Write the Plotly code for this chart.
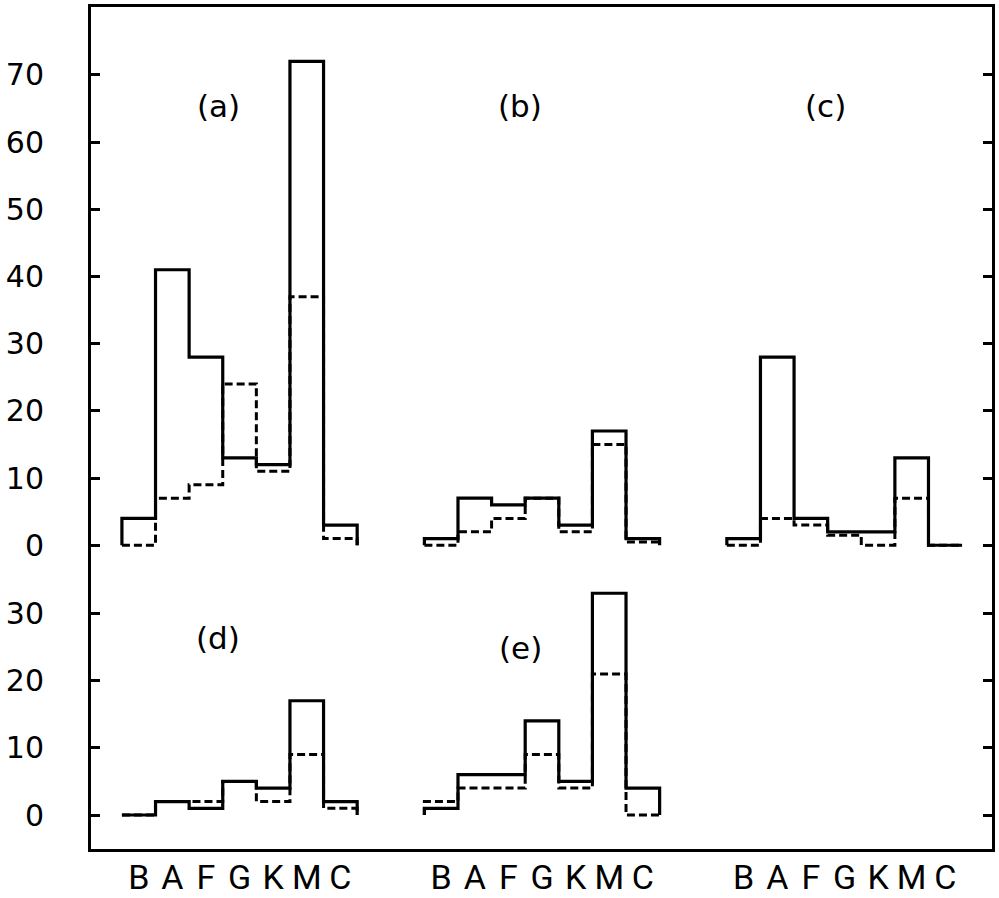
import plotly.graph_objects as go

# Spectral-type categories (same for every panel)
categories = ["B", "A", "F", "G", "K", "M", "C"]

# Top row panels (a), (b), (c): solid and dashed histograms
a_solid = [4, 41, 28, 13, 12, 72, 3]
a_dashed = [0, 7, 9, 24, 11, 37, 1]
b_solid = [1, 7, 6, 7, 3, 17, 1]
b_dashed = [0, 2, 4, 7, 2, 15, 0.5]
c_solid = [1, 28, 4, 2, 2, 13, 0]
c_dashed = [0, 4, 3, 1.5, 0, 7, 0]

# Bottom row panels (d), (e)
d_solid = [0, 2, 1, 5, 4, 17, 2]
d_dashed = [0, 2, 2, 5, 2, 9, 1]
e_solid = [1, 6, 6, 14, 5, 33, 4]
e_dashed = [2, 4, 4, 9, 4, 21, 0]

top_ticks = [0, 10, 20, 30, 40, 50, 60, 70]
bottom_ticks = [0, 10, 20, 30]

panel_labels = ["(a)", "(b)", "(c)", "(d)", "(e)"]

# column start offsets (in bin units) for the three columns
col_start = [0, 9, 18]

fig = go.Figure()


def add_hist(values, start, yref, dashed):
    n = len(values)
    xs = [start] + [start + i for i in range(n)] + [start + n, start + n]
    ys = [0] + list(values) + [values[-1], 0]
    fig.add_trace(go.Scatter(
        x=xs, y=ys, mode="lines", line_shape="hv",
        line=dict(color="black", width=3 if dashed else 3.2,
                  dash="8px,4px" if dashed else "solid"),
        yaxis=yref, showlegend=False, hoverinfo="skip"))


panels = [
    (a_solid, a_dashed, col_start[0], "y"),
    (b_solid, b_dashed, col_start[1], "y"),
    (c_solid, c_dashed, col_start[2], "y"),
    (d_solid, d_dashed, col_start[0], "y2"),
    (e_solid, e_dashed, col_start[1], "y2"),
]
for solid, dashed, start, yref in panels:
    add_hist(dashed, start, yref, True)
    add_hist(solid, start, yref, False)

# panel letters
label_pos = [(2.86, 65.3, "y"), (11.85, 65.3, "y"), (20.95, 65.3, "y"),
             (2.86, 26.3, "y2"), (11.85, 24.9, "y2")]
for text, (lx, ly, yr) in zip(panel_labels, label_pos):
    fig.add_annotation(x=lx, y=ly, xref="x", yref=yr, text=text,
                       showarrow=False,
                       font=dict(family="DejaVu Sans", size=31, color="black"))

xtickvals = [s + i + 0.5 for s in col_start for i in range(len(categories))]
xticktext = categories * len(col_start)

axis_font = dict(family="DejaVu Sans", size=30, color="black")

fig.update_layout(
    width=999, height=898,
    margin=dict(l=91, r=7, t=7, b=49, autoexpand=False),
    paper_bgcolor="white", plot_bgcolor="white",
    xaxis=dict(range=[-0.92, 25.89], tickvals=xtickvals, ticktext=xticktext,
               automargin=False,
               showgrid=False, zeroline=False, showline=True, linewidth=3,
               linecolor="black", mirror=True, ticks="",
               ticklabelstandoff=-4,
               tickfont=dict(family="Roboto", size=34, color="black")),
    yaxis=dict(range=[-45.2, 80.1], tickvals=top_ticks,
               ticktext=[str(v) for v in top_ticks], automargin=False,
               showgrid=False, zeroline=False, showline=True, linewidth=3,
               linecolor="black", mirror="ticks", ticks="inside",
               ticklen=9, tickwidth=3, tickcolor="black",
               ticklabelstandoff=38, tickfont=axis_font),
    yaxis2=dict(range=[-5.06, 120.24], tickvals=bottom_ticks,
                ticktext=[str(v) for v in bottom_ticks], automargin=False,
                overlaying="y", side="left",
                showgrid=False, zeroline=False, showline=True, linewidth=3,
                linecolor="black", mirror="ticks", ticks="inside",
                ticklen=9, tickwidth=3, tickcolor="black",
                ticklabelstandoff=38, tickfont=axis_font),
)

fig.write_html("out.html",
               config={"displayModeBar": False},
               post_script="document.body.style.margin='0px';"
                           "document.body.style.overflow='hidden';")
